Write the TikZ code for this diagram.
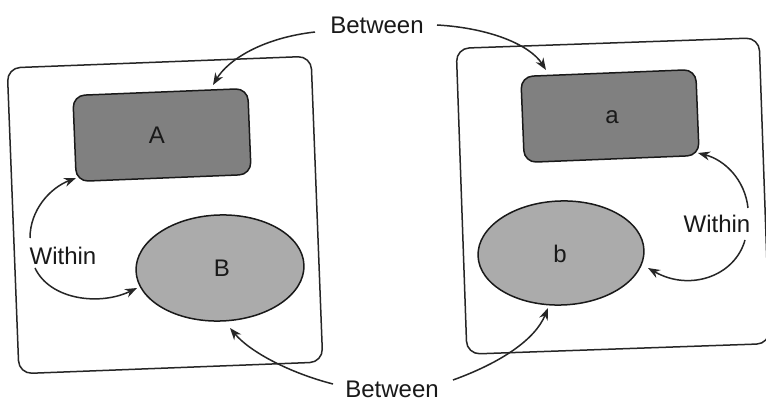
\documentclass[tikz,border=0pt]{standalone}
\usepackage{fontspec}
\setmainfont{Liberation Sans}
\usetikzlibrary{arrows.meta,shapes.geometric}
\begin{document}
\begin{tikzpicture}[x=1pt,y=-1pt,
  frame/.style={draw=black!85,line width=1.5pt,rounded corners=13pt,minimum width=#1,minimum height=306pt,inner sep=0pt},
  darkbox/.style={draw=black!90,line width=1.5pt,fill=black!50,rounded corners=12pt,minimum width=175pt,minimum height=86pt,inner sep=0pt,rotate=2.3},
  lightell/.style={ellipse,draw=black!90,line width=1.5pt,fill=black!33,minimum width=#1,inner sep=0pt},
  lbl/.style={font=\fontsize{24}{28}\selectfont,text=black!90,inner sep=0pt},
  arr/.style={line width=1.5pt,draw=black!85,-{Stealth[length=12pt,width=9pt]}}
]
\useasboundingbox (0,0) rectangle (766,403);
\fill[white] (0,0) rectangle (766,403);
% frames
\node[frame=304pt,rotate=2.2] (F1) at (165,215) {};
\node[frame=303pt,rotate=2.0] (F2) at (613,196) {};
% shapes
\node[darkbox] (A) at (162,135) {};
\node[darkbox] (a) at (610,116) {};
\node[lightell=168pt,minimum height=106pt,rotate=2] (B) at (220,268) {};
\node[lightell=166pt,minimum height=104pt,rotate=2] (b) at (561,253) {};
% labels
\node[lbl] (lA) at (157,135) {A};
\node[lbl] (lB) at (222,268) {B};
\node[lbl] (la) at (612,117) {a};
\node[lbl] (lb) at (560,254) {b};
\node[lbl] (btop) at (377,25) {Between};
\node[lbl] (bbot) at (392,389) {Between};
\node[lbl] (wl) at (63,256) {Within};
\node[lbl] (wr) at (717,224) {Within};
% connector ends
\coordinate (s1) at (315,32);   \coordinate (t1) at (213,85);
\coordinate (s2) at (437,25);   \coordinate (t2) at (546,70);
\coordinate (s3) at (333,384);  \coordinate (t3) at (230,328);
\coordinate (s4) at (453,380);  \coordinate (t4) at (548,308);
\coordinate (s5) at (30,238);   \coordinate (t5) at (76,178);
\coordinate (s6) at (35,268);   \coordinate (t6) at (137,288);
\coordinate (s7) at (748,208);  \coordinate (t7) at (698,153);
\coordinate (s8) at (745,240);  \coordinate (t8) at (648,268);
% connectors
\draw[arr] (s1) .. controls (262,38) and (228,60) .. (t1);
\draw[arr] (s2) .. controls (490,28) and (530,45) .. (t2);
\draw[arr] (s3) .. controls (290,373) and (250,352) .. (t3);
\draw[arr] (s4) .. controls (500,363) and (535,340) .. (t4);
\draw[arr] (s5) .. controls (30,210) and (50,188) .. (t5);
\draw[arr] (s6) .. controls (50,300) and (100,306) .. (t6);
\draw[arr] (s7) .. controls (745,180) and (725,160) .. (t7);
\draw[arr] (s8) .. controls (735,276) and (690,292) .. (t8);
\end{tikzpicture}
\end{document}
